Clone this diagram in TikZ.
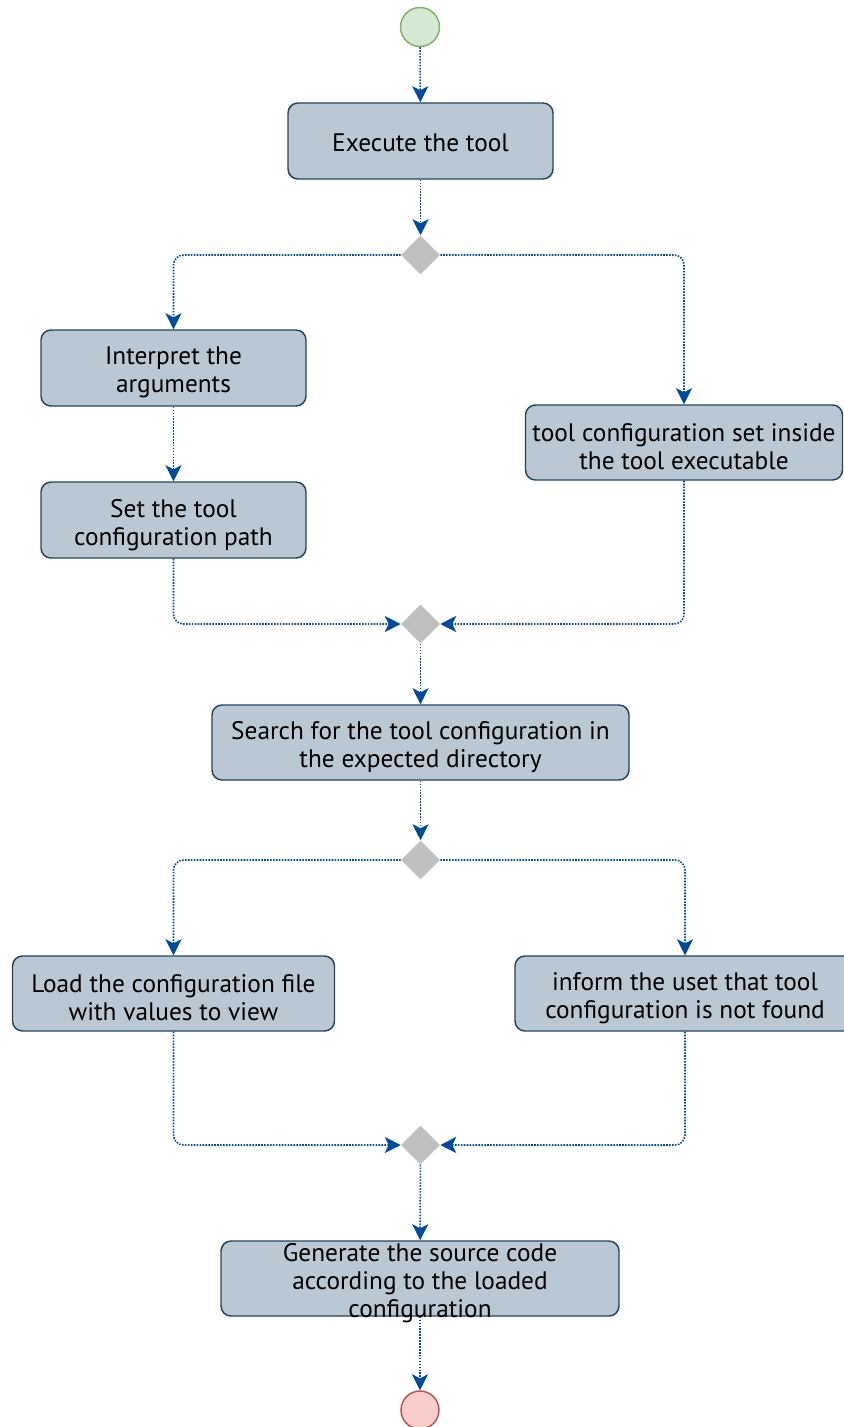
\documentclass[tikz,border=0pt]{standalone}
\usepackage{fontspec}
\setmainfont{PT Sans}
\usetikzlibrary{arrows.meta,shapes.geometric}

\definecolor{boxfill}{RGB}{186,200,211}
\definecolor{boxline}{RGB}{35,68,93}
\definecolor{startfill}{RGB}{213,232,212}
\definecolor{startline}{RGB}{130,179,102}
\definecolor{endfill}{RGB}{248,206,204}
\definecolor{endline}{RGB}{184,84,80}
\definecolor{gatefill}{RGB}{192,192,192}
\definecolor{flow}{RGB}{0,76,153}

\tikzset{
  stepbox/.style 2 args={draw=boxline, fill=boxfill, line width=1.1pt,
    rounded corners=7.5pt, minimum width=#1*0.75pt, minimum height=#2*0.75pt,
    inner sep=0pt},
  boxtext/.style={align=center, font=\fontsize{19}{21}\selectfont, text=black,
    inner sep=0pt, yshift=-3.5pt},
  gate/.style={diamond, aspect=1, fill=gatefill, draw=none,
    minimum width=39*0.75pt, minimum height=39*0.75pt, inner sep=0pt},
  startnode/.style={circle, fill=startfill, draw=startline, line width=1.1pt,
    minimum size=39*0.75pt, inner sep=0pt},
  endnode/.style={circle, fill=endfill, draw=endline, line width=1.1pt,
    minimum size=38*0.75pt, inner sep=0pt},
  flowline/.style={draw=flow, line width=1.2pt, dash pattern=on 1.2pt off 1pt,
    rounded corners=7.5pt,
    -{Stealth[length=12pt, width=12pt, inset=3pt, fill=flow, sep=0pt]}},
}

\begin{document}
\begin{tikzpicture}[x=0.75pt, y=-0.75pt]
  \useasboundingbox (0,0) rectangle (843,1427);

  % start and end points
  \node[startnode] (start) at (420,27) {};
  \node[endnode] (stop) at (420,1410) {};

  % activities
  \node[stepbox={265}{76}, label={[boxtext, yshift=2.5pt]center:Execute the tool}] (exec) at (420.5,141) {};
  \node[stepbox={265}{76}, label={[boxtext]center:Interpret the\\arguments}] (interp) at (173.5,368) {};
  \node[stepbox={265}{76}, label={[boxtext]center:Set the tool\\configuration path}] (setpath) at (173.5,520) {};
  \node[stepbox={317}{75}, label={[boxtext]center:tool configuration set inside\\the tool executable}] (builtin) at (684,442.5) {};
  \node[stepbox={417}{75}, label={[boxtext]center:Search for the tool configuration in\\the expected directory}] (search) at (420.5,742.5) {};
  \node[stepbox={322}{75}, label={[boxtext]center:Load the configuration file\\with values to view}] (load) at (173.5,993.5) {};
  \node[stepbox={340}{75}, label={[boxtext]center:inform the uset that tool\\configuration is not found}] (inform) at (685,993.5) {};
  \node[stepbox={398}{75}, label={[boxtext]center:Generate the source code\\according to the loaded\\configuration}] (generate) at (420,1278.5) {};

  % decision and merge points
  \node[gate] (split1) at (420.5,255) {};
  \node[gate] (merge1) at (420.5,624) {};
  \node[gate] (split2) at (420.5,860) {};
  \node[gate] (merge2) at (420.5,1145) {};

  % control flow
  \draw[flowline] (start) -- (exec);
  \draw[flowline] (exec) -- (split1);
  \draw[flowline] (split1.west) -| (interp.north);
  \draw[flowline] (split1.east) -| (builtin.north);
  \draw[flowline] (interp) -- (setpath);
  \draw[flowline] (setpath.south) |- (merge1.west);
  \draw[flowline] (builtin.south) |- (merge1.east);
  \draw[flowline] (merge1) -- (search);
  \draw[flowline] (search) -- (split2);
  \draw[flowline] (split2.west) -| (load.north);
  \draw[flowline] (split2.east) -| (inform.north);
  \draw[flowline] (load.south) |- (merge2.west);
  \draw[flowline] (inform.south) |- (merge2.east);
  \draw[flowline] (merge2) -- (generate);
  \draw[flowline] (generate) -- (stop);
\end{tikzpicture}
\end{document}
